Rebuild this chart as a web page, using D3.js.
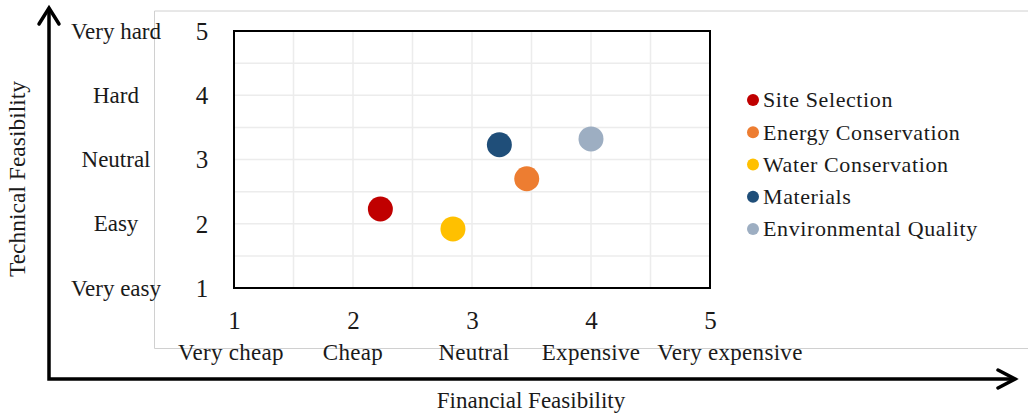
<!DOCTYPE html>
<html><head><meta charset="utf-8">
<script src="https://cdn.jsdelivr.net/npm/d3@7"></script>
<style>body{margin:0;background:#fff}svg{display:block}text{font-family:"Liberation Serif","Times New Roman",serif;fill:#1a1a1a}</style>
</head><body><svg id="c" width="1028" height="416"></svg>
<script>
const series = ["Site Selection","Energy Conservation","Water Conservation","Materials","Environmental Quality"];
const financial = [2.23, 3.46, 2.84, 3.23, 4.0];
const technical = [2.23, 2.70, 1.92, 3.23, 3.32];
const colors = ["#C00000","#ED7D31","#FFC000","#1F4E79","#9DAEC2"];
const xTicks = [1,2,3,4,5];
const yTicks = [1,2,3,4,5];
const xTickLabels = ["Very cheap","Cheap","Neutral","Expensive","Very expensive"];
const yTickLabels = ["Very easy","Easy","Neutral","Hard","Very hard"];
const xTitle = "Financial Feasibility";
const yTitle = "Technical Feasibility";

const svg = d3.select("#c");
const L=234,R=710,T=31,B=288;
const x = d3.scaleLinear().domain([1,5]).range([L,R]);
const y = d3.scaleLinear().domain([1,5]).range([B,T]);

// chart area border
svg.append("path").attr("d","M1028,11H154.5V348.5H1028").attr("fill","none").attr("stroke","#d0d0d0").attr("stroke-width",1);

// gridlines
const grid = d3.range(1,5.01,0.5);
svg.append("g").selectAll("line").data(grid).join("line")
  .attr("x1",d=>x(d)).attr("x2",d=>x(d)).attr("y1",T).attr("y2",B)
  .attr("stroke","#ececec").attr("stroke-width",1.5);
svg.append("g").selectAll("line").data(grid).join("line")
  .attr("y1",d=>y(d)).attr("y2",d=>y(d)).attr("x1",L).attr("x2",R)
  .attr("stroke","#ececec").attr("stroke-width",1.5);
svg.append("rect").attr("x",L).attr("y",T).attr("width",R-L).attr("height",B-T)
  .attr("fill","none").attr("stroke","#000").attr("stroke-width",2);

// y tick numbers and labels
const yAxis = svg.append("g").attr("transform",`translate(210,0)`).call(d3.axisLeft(y).tickValues(yTicks).tickFormat(d3.format("d")).tickSize(0));
yAxis.select(".domain").remove();
yAxis.selectAll("text").attr("font-size",25).attr("text-anchor","middle").attr("x",-8).attr("dy","0.33em").style("font-family","Liberation Serif").attr("fill","#1a1a1a");
svg.append("g").selectAll("text").data(yTicks).join("text")
  .attr("x",116).attr("y",d=>y(d)).attr("dy","0.33em").attr("text-anchor","middle")
  .attr("font-size",23).text((d,i)=>yTickLabels[i]);

// x tick numbers and labels
const xAxis = svg.append("g").attr("transform",`translate(0,311)`).call(d3.axisBottom(x).tickValues(xTicks).tickFormat(d3.format("d")).tickSize(0));
xAxis.select(".domain").remove();
xAxis.selectAll("text").attr("font-size",25).attr("y",0).attr("dy","0.71em").style("font-family","Liberation Serif").attr("fill","#1a1a1a");
svg.append("g").selectAll("text").data(xTicks).join("text")
  .attr("x",d=>x(d)+(d===5?20:(d===1?-3:(d===3?2:0)))).attr("y",352).attr("dy","0.33em").attr("text-anchor","middle")
  .attr("font-size",23).style("letter-spacing","0.3px").text((d,i)=>xTickLabels[i]);

// arrows
svg.append("path").attr("d","M49,9V379H1014").attr("fill","none").attr("stroke","#000").attr("stroke-width",3.5).attr("stroke-linejoin","miter");
svg.append("path").attr("d","M39,24L49,8L59,24").attr("fill","none").attr("stroke","#000").attr("stroke-width",3.5).attr("stroke-linecap","round");
svg.append("path").attr("d","M998,370L1015,379L998,388").attr("fill","none").attr("stroke","#000").attr("stroke-width",3.5).attr("stroke-linecap","round");

svg.append("text").attr("x",531).attr("y",408).attr("text-anchor","middle").attr("font-size",23).text(xTitle);
svg.append("text").attr("transform","translate(25,179) rotate(-90)").attr("text-anchor","middle").attr("font-size",23.5).text(yTitle);

// points
svg.append("g").selectAll("circle").data(series).join("circle")
  .attr("cx",(d,i)=>x(financial[i])).attr("cy",(d,i)=>y(technical[i])).attr("r",12.5)
  .attr("fill",(d,i)=>colors[i]);

// legend
const lg = svg.append("g");
const ly = d3.scalePoint().domain(series).range([100,229]);
lg.selectAll("circle").data(series).join("circle")
  .attr("cx",753).attr("cy",d=>ly(d)).attr("r",6).attr("fill",(d,i)=>colors[i]);
lg.selectAll("text").data(series).join("text")
  .attr("x",763).attr("y",d=>ly(d)).attr("dy","0.33em").attr("font-size",22).style("letter-spacing","0.6px").text(d=>d);
</script></body></html>
